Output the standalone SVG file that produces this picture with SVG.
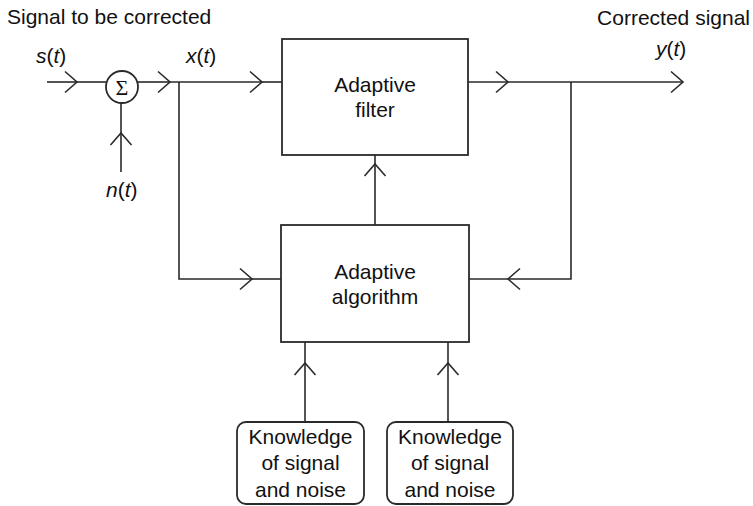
<svg xmlns="http://www.w3.org/2000/svg" width="753" height="506" viewBox="0 0 753 506">
<defs>
<style>
.ln{fill:none;stroke:#2a2a2a;stroke-width:1.6}
.box{fill:#fff;stroke:#2a2a2a;stroke-width:1.8}
text{font-family:"Liberation Sans",Arial,sans-serif;font-size:21px;fill:#111}
.c{text-anchor:middle}
.i{font-style:italic}
</style>
<marker id="chev" viewBox="-13 -12 15 24" refX="0" refY="0" markerWidth="15" markerHeight="24" markerUnits="userSpaceOnUse" orient="auto">
<path d="M-12,-10.5 L0,0 L-12,10.5" fill="none" stroke="#2a2a2a" stroke-width="1.6"/>
</marker>
</defs>
<rect width="753" height="506" fill="#fff"/>

<g id="connectors" class="ln">
<path d="M47,82 L77,82" marker-end="url(#chev)"/>
<path d="M77,82 L106,82"/>
<path d="M121,172 L121,133" marker-end="url(#chev)"/>
<path d="M121,133 L121,102"/>
<path d="M138,82 L170,82" marker-end="url(#chev)"/>
<path d="M170,82 L262,82" marker-end="url(#chev)"/>
<path d="M262,82 L282,82"/>
<path d="M179,82 L179,279 L252,279" marker-end="url(#chev)"/>
<path d="M252,279 L281,279"/>
<path d="M468,82 L508,82" marker-end="url(#chev)"/>
<path d="M508,82 L683,82" marker-end="url(#chev)"/>
<path d="M571,82 L571,279 L508,279" marker-end="url(#chev)"/>
<path d="M508,279 L469,279"/>
<path d="M375,225 L375,164" marker-end="url(#chev)"/>
<path d="M375,164 L375,155"/>
<path d="M305,422 L305,363" marker-end="url(#chev)"/>
<path d="M305,363 L305,342"/>
<path d="M448,422 L448,363" marker-end="url(#chev)"/>
<path d="M448,363 L448,342"/>
</g>

<g id="labels">
<text x="7" y="24">Signal to be corrected</text>
<text x="750" y="25" text-anchor="end">Corrected signal</text>
<text x="36" y="63"><tspan class="i">s</tspan>(<tspan class="i">t</tspan>)</text>
<text x="186" y="63"><tspan class="i">x</tspan>(<tspan class="i">t</tspan>)</text>
<text x="656" y="56"><tspan class="i">y</tspan>(<tspan class="i">t</tspan>)</text>
<text x="106" y="197"><tspan class="i">n</tspan>(<tspan class="i">t</tspan>)</text>
</g>

<g id="sum">
<circle class="box" cx="122" cy="87" r="16"/>
<text class="c" x="122" y="95" style="font-family:'Liberation Serif','Times New Roman',serif;font-size:22px">Σ</text>
</g>

<g id="adaptive-filter">
<rect class="box" x="282" y="39" width="186" height="116"/>
<text class="c" x="375" y="92">Adaptive</text>
<text class="c" x="375" y="117">filter</text>
</g>

<g id="adaptive-algorithm">
<rect class="box" x="281" y="225" width="188" height="117"/>
<text class="c" x="375" y="279">Adaptive</text>
<text class="c" x="375" y="304">algorithm</text>
</g>

<g id="knowledge-1">
<rect class="box" x="237" y="422" width="127" height="82" rx="9"/>
<text class="c" x="300.5" y="444">Knowledge</text>
<text class="c" x="300.5" y="470">of signal</text>
<text class="c" x="300.5" y="497">and noise</text>
</g>

<g id="knowledge-2">
<rect class="box" x="387" y="422" width="126" height="82" rx="9"/>
<text class="c" x="450" y="444">Knowledge</text>
<text class="c" x="450" y="470">of signal</text>
<text class="c" x="450" y="497">and noise</text>
</g>
</svg>
